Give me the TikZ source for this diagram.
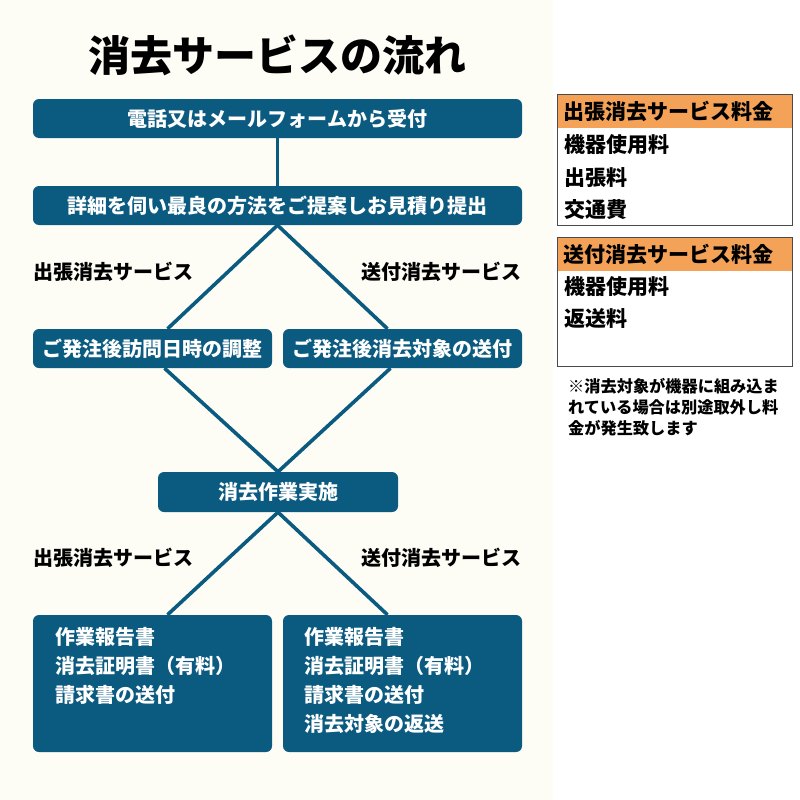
\documentclass[tikz,border=0pt]{standalone}
\usepackage{fontspec}
\setmainfont{Noto Sans CJK JP}
\definecolor{navy}{HTML}{0B5A80}
\definecolor{cream}{HTML}{FDFDF6}
\definecolor{orng}{HTML}{F4A257}
\definecolor{framec}{HTML}{4A4A4A}
\pgfdeclarelayer{back}
\pgfdeclarelayer{lines}
\pgfsetlayers{back,lines,main}
\begin{document}
\begin{tikzpicture}[x=1pt,y=-1pt,
  flowbox/.style={fill=navy, rounded corners=6pt, text=white, inner sep=0pt,
    font=\fontsize{20}{24}\selectfont\bfseries, minimum height=39pt},
  boxtext/.style={text=white, anchor=west, inner sep=0pt, font=\fontsize{20}{24}\selectfont\bfseries},
  branchlabel/.style={text=black, inner sep=0pt, font=\fontsize{20}{24}\selectfont\bfseries},
  conn/.style={draw=navy, line width=3.6pt},
  feehead/.style={fill=orng, anchor=north west, minimum width=235pt, minimum height=34pt, inner sep=0pt},
  feeframe/.style={draw=framec, line width=1pt, anchor=north west, minimum width=235pt, inner sep=0pt},
  feetext/.style={anchor=west, inner sep=0pt, text=black, font=\fontsize{21}{25}\selectfont\bfseries},
  notetext/.style={anchor=west, inner sep=0pt, text=black, font=\fontsize{16.2}{19}\selectfont\bfseries}]
\useasboundingbox (0,0) rectangle (800,800);
\begin{pgfonlayer}{back}
  \fill[white] (0,0) rectangle (800,800);
  \fill[cream] (0,0) rectangle (553,800);
\end{pgfonlayer}

% title
\node[inner sep=0pt, font=\fontsize{42}{50}\selectfont\bfseries] (title) at (277,55) {消去サービスの流れ};

% flow boxes
\node[flowbox, minimum width=489pt] (b1) at (277.5,118.5) {電話又はメールフォームから受付};
\node[flowbox, minimum width=489pt] (b2) at (277.5,205.5) {詳細を伺い最良の方法をご提案しお見積り提出};
\node[flowbox, minimum width=239pt] (l1) at (152.5,348.5) {ご発注後訪問日時の調整};
\node[flowbox, minimum width=239pt] (r1) at (402.5,348.5) {ご発注後消去対象の送付};
\node[flowbox, minimum width=240pt, minimum height=40pt] (work) at (278,492) {消去作業実施};
\node[flowbox, minimum width=239pt, minimum height=137pt] (l2) at (152.5,683.5) {};
\node[flowbox, minimum width=239pt, minimum height=137pt] (r2) at (402.5,683.5) {};

% text in final boxes
\node[boxtext] (l2a) at (55,637) {作業報告書};
\node[boxtext] (l2b) at (55,666) {消去証明書（有料）};
\node[boxtext] (l2c) at (55,695) {請求書の送付};
\node[boxtext] (r2a) at (304,637) {作業報告書};
\node[boxtext] (r2b) at (304,666) {消去証明書（有料）};
\node[boxtext] (r2c) at (304,695) {請求書の送付};
\node[boxtext] (r2d) at (304,724) {消去対象の返送};

% branch labels
\node[branchlabel, anchor=west] (lab1) at (33,272) {出張消去サービス};
\node[branchlabel, anchor=east] (lab2) at (522,272) {送付消去サービス};
\node[branchlabel, anchor=west] (lab3) at (33,558) {出張消去サービス};
\node[branchlabel, anchor=east] (lab4) at (522,558) {送付消去サービス};

% connectors
\begin{pgfonlayer}{lines}
  \draw[conn] (b1.south) -- (b2.north);
  \draw[conn] (b2.south) -- ([xshift=15pt]l1.north);
  \draw[conn] (b2.south) -- ([xshift=-15pt]r1.north);
  \draw[conn] ([xshift=12pt]l1.south) -- (work.north);
  \draw[conn] ([xshift=-12pt]r1.south) -- (work.north);
  \draw[conn] (work.south) -- ([xshift=15pt]l2.north);
  \draw[conn] (work.south) -- ([xshift=-15pt]r2.north);
\end{pgfonlayer}

% fee panels
\node[feehead] (h1) at (557,94) {};
\node[feeframe, minimum height=131pt] (p1) at (557,94) {};
\node[feetext] (h1t) at (563,111) {出張消去サービス料金};
\node[feetext] (p1a) at (564,145) {機器使用料};
\node[feetext] (p1b) at (564,178) {出張料};
\node[feetext] (p1c) at (564,210) {交通費};

\node[feehead] (h2) at (557,237) {};
\node[feeframe, minimum height=129pt] (p2) at (557,237) {};
\node[feetext] (h2t) at (563,254) {送付消去サービス料金};
\node[feetext] (p2a) at (564,287) {機器使用料};
\node[feetext] (p2b) at (564,318) {返送料};

\node[notetext] (n1) at (568,386) {※消去対象が機器に組み込ま};
\node[notetext] (n2) at (568,407) {れている場合は別途取外し料};
\node[notetext] (n3) at (568,428) {金が発生致します};
\end{tikzpicture}
\end{document}
